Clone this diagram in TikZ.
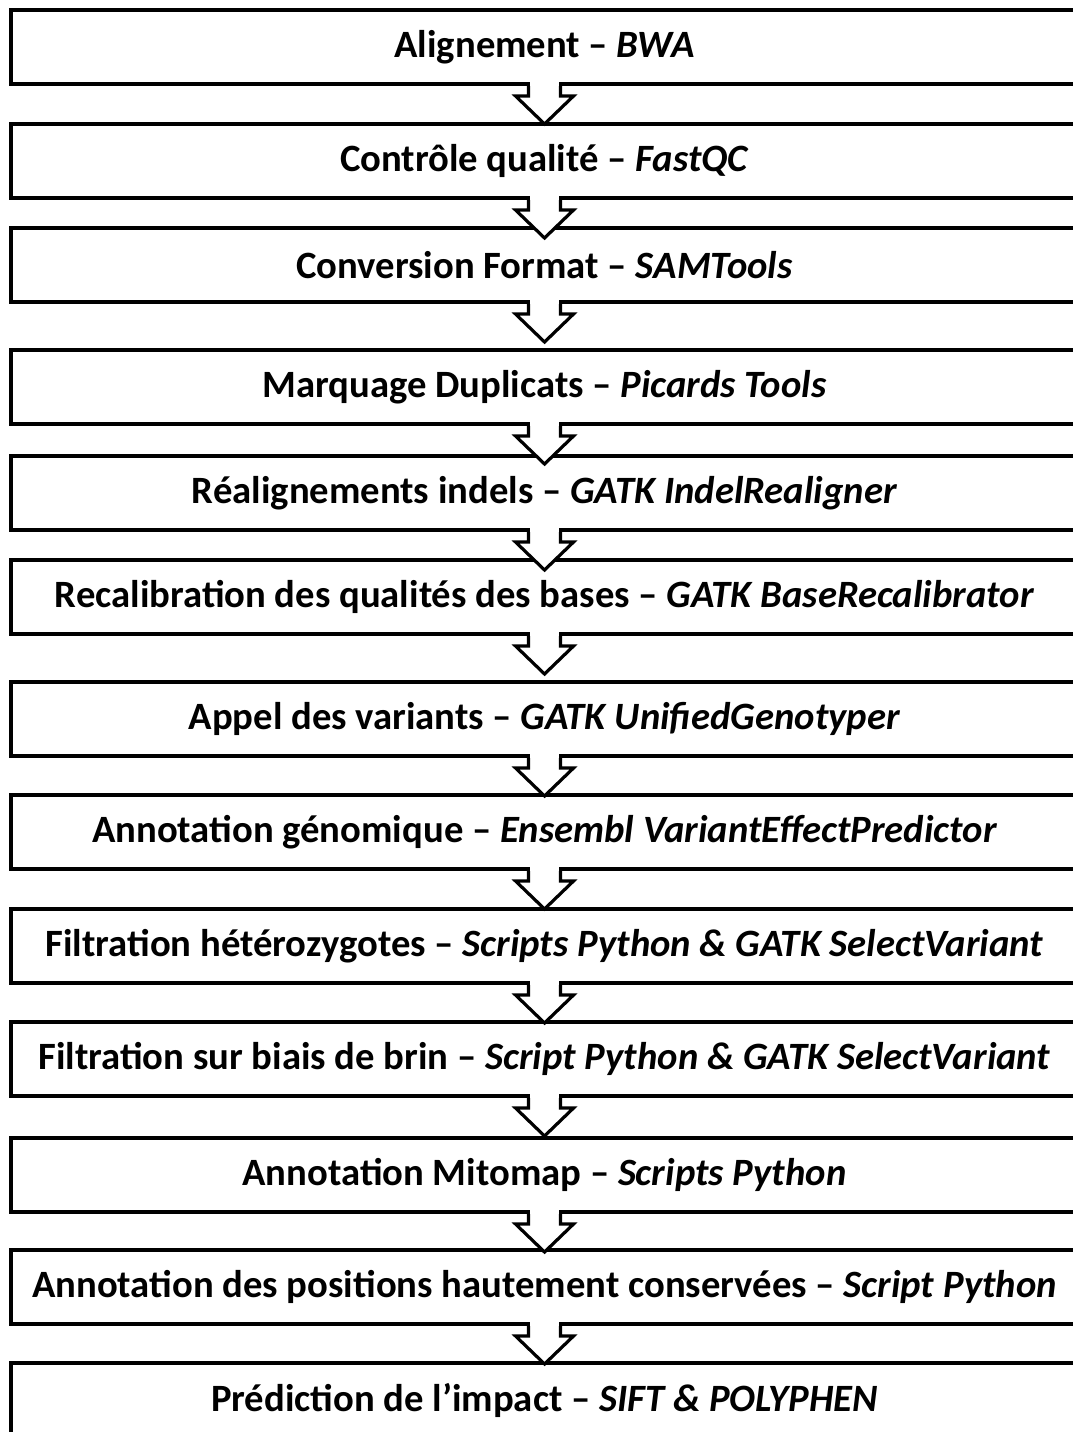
\documentclass[tikz,border=0pt]{standalone}
\usepackage{fontspec}
\setmainfont{Carlito}
\usepackage{tikz}
\usetikzlibrary{positioning}

\begin{document}
\begin{tikzpicture}[
    etape/.style={
        draw,
        line width=2.4pt,
        outer sep=0pt,
        minimum width=800.25pt,
        minimum height=55.5pt,
        align=center,
        font=\fontsize{29}{34}\selectfont\bfseries
    },
    fleche/.pic={
        % pointe creuse, ouverte vers la boite du dessus
        \draw[line width=2.4pt, line join=miter, fill=white] (-12pt,0) -- (-12pt,-9pt) -- (-21.75pt,-9pt) -- (0,-30pt)
            -- (21.75pt,-9pt) -- (12pt,-9pt) -- (12pt,0) -- cycle;
        \fill[white] (-10.8pt,-1.5pt) rectangle (10.8pt,1.5pt);
    }
]
\fill[white] (0,0) rectangle (804pt,-1074pt);
\useasboundingbox (0,0) rectangle (804pt,-1074pt);

\node[etape] (align) at (408.4pt,-35.25pt) {Alignement -- \textit{BWA}};
\node[etape, below=30pt of align] (qualite) {Contrôle qualité -- \textit{FastQC}};
\node[etape, below=22.5pt of qualite] (format) {Conversion Format -- \textit{SAMTools}};
\node[etape, below=36pt of format] (dupli) {Marquage Duplicats -- \textit{Picards Tools}};
\node[etape, below=24pt of dupli] (indels) {Réalignements indels -- \textit{GATK IndelRealigner}};
\node[etape, below=22.5pt of indels] (recal) {Recalibration des qualités des bases -- \textit{GATK BaseRecalibrator}};
\node[etape, below=36pt of recal] (appel) {Appel des variants -- \textit{GATK UnifiedGenotyper}};
\node[etape, below=29.25pt of appel] (annot) {Annotation génomique -- \textit{Ensembl VariantEffectPredictor}};
\node[etape, below=30pt of annot] (hetero) {Filtration hétérozygotes -- \textit{Scripts Python \& GATK SelectVariant}};
\node[etape, below=29.25pt of hetero] (brin) {Filtration sur biais de brin -- \textit{Script Python \& GATK SelectVariant}};
\node[etape, below=31.5pt of brin] (mitomap) {Annotation Mitomap -- \textit{Scripts Python}};
\node[etape, below=28.5pt of mitomap] (conserv) {Annotation des positions hautement conservées -- \textit{Script Python}};
\node[etape, below=29.25pt of conserv] (impact) {Prédiction de l’impact -- \textit{SIFT \& POLYPHEN}};

\pic at (align.south) {fleche};
\pic at (qualite.south) {fleche};
\pic at (format.south) {fleche};
\pic at (dupli.south) {fleche};
\pic at (indels.south) {fleche};
\pic at (recal.south) {fleche};
\pic at (appel.south) {fleche};
\pic at (annot.south) {fleche};
\pic at (hetero.south) {fleche};
\pic at (brin.south) {fleche};
\pic at (mitomap.south) {fleche};
\pic at (conserv.south) {fleche};
\end{tikzpicture}
\end{document}
